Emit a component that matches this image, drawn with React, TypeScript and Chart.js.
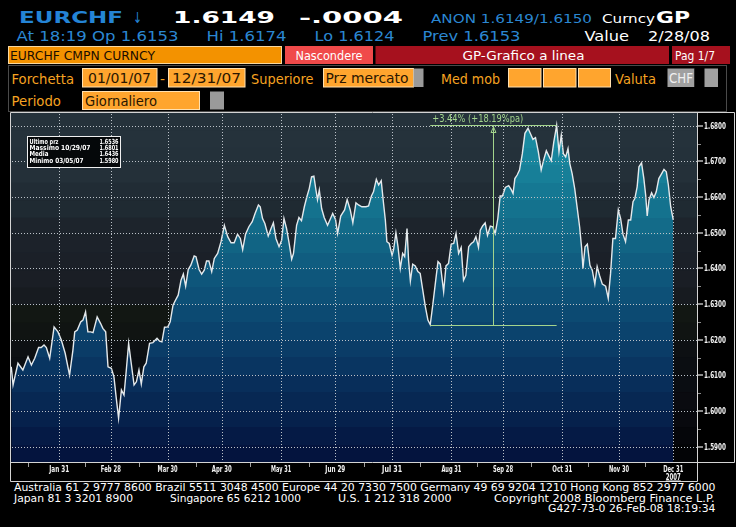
import React, { useEffect, useRef } from "react";
import { Chart, registerables } from "chart.js";

Chart.register(...registerables);

// ---- DATA (trading-day number of 2007, EURCHF close) ----
const days = [
  4.4, 5.1, 7.0, 8.9, 10.9, 12.2, 13.5, 15.0, 16.0, 17.1, 18.0, 19.3, 21.0, 22.5, 23.8, 25.3, 27.0, 28.3, 29.0, 30.0,
  31.3, 32.2, 33.2, 34.1, 35.2, 36.1, 37.7, 39.0, 39.9, 41.0, 41.9, 43.2, 44.2, 45.1, 46.0, 47.1, 48.1, 49.0, 49.9, 50.9,
  52.0, 52.9, 53.9, 54.8, 55.8, 56.7, 58.0, 59.3, 60.9, 61.9, 62.8, 63.8, 65.1, 66.0, 67.1, 68.0, 69.1, 70.2, 71.1, 72.0,
  73.0, 74.0, 75.3, 76.0, 77.2, 78.2, 79.2, 80.1, 81.0, 82.1, 83.1, 84.4, 85.7, 87.0, 88.3, 89.6, 90.8, 92.1, 93.2, 94.1,
  95.2, 96.5, 97.8, 98.9, 100.2, 100.9, 101.8, 102.7, 104.0, 105.1, 106.0, 107.0, 108.2, 109.2, 110.1, 111.1, 112.0, 113.1, 113.8, 115.0,
  115.9, 116.9, 118.0, 118.9, 119.9, 120.8, 121.7, 122.5, 123.1, 123.8, 124.7, 125.7, 127.0, 127.9, 129.0, 130.1, 130.9, 132.1, 132.8, 133.6,
  134.6, 135.8, 136.8, 138.0, 139.0, 140.3, 141.9, 142.9, 144.0, 144.8, 145.9, 146.8, 147.8, 148.7, 149.4, 150.0, 150.9, 152.0, 152.6, 153.5,
  154.3, 155.2, 156.1, 156.9, 157.8, 158.4, 159.1, 160.0, 161.0, 162.0, 162.9, 163.8, 164.9, 165.9, 166.8, 167.7, 168.7, 169.8, 170.7, 172.0,
  172.9, 173.9, 174.9, 175.9, 176.8, 177.8, 178.8, 179.7, 180.6, 181.7, 182.7, 183.6, 184.5, 185.5, 186.2, 187.1, 188.1, 189.0, 190.1, 191.0,
  192.0, 193.0, 193.9, 194.8, 195.9, 197.2, 198.2, 198.9, 199.6, 200.5, 201.4, 202.5, 203.5, 204.7, 205.7, 206.6, 207.6, 208.7, 209.8, 210.9,
  211.8, 212.8, 213.7, 214.7, 215.8, 216.7, 217.6, 218.4, 219.3, 220.2, 220.9, 221.8, 222.8, 223.8, 224.7, 225.5, 226.0, 226.8, 227.7, 228.7,
  229.6, 230.6, 231.5, 232.4, 233.5, 234.8, 235.8, 236.7, 237.6, 238.6, 239.7, 240.6, 241.5, 242.5, 243.6, 244.5, 245.4, 246.1, 247.0, 247.7,
  248.7, 249.6, 250.3, 250.9, 251.6, 252.6, 253.5, 254.4, 255.4, 256.5, 257.4, 258.3, 259.1, 260.0, 261.0,
];
const rates = [
  1.6124, 1.6073, 1.6134, 1.6115, 1.6152, 1.6129, 1.6148, 1.6178, 1.6178, 1.6185, 1.6178, 1.6148, 1.6236, 1.6222, 1.6199, 1.6162, 1.6101, 1.6171, 1.6222, 1.6227,
  1.6250, 1.6255, 1.6278, 1.6222, 1.6222, 1.6220, 1.6264, 1.6246, 1.6232, 1.6222, 1.6124, 1.6120, 1.6096, 1.6036, 1.5980, 1.6059, 1.6045, 1.6115, 1.6190, 1.6134,
  1.6073, 1.6082, 1.6115, 1.6076, 1.6124, 1.6134, 1.6190, 1.6192, 1.6204, 1.6196, 1.6194, 1.6235, 1.6236, 1.6250, 1.6297, 1.6310, 1.6325, 1.6367, 1.6384, 1.6350,
  1.6397, 1.6409, 1.6435, 1.6433, 1.6397, 1.6384, 1.6395, 1.6421, 1.6421, 1.6391, 1.6428, 1.6442, 1.6475, 1.6521, 1.6489, 1.6472, 1.6472, 1.6496, 1.6484, 1.6453,
  1.6496, 1.6517, 1.6531, 1.6554, 1.6578, 1.6573, 1.6540, 1.6526, 1.6491, 1.6512, 1.6528, 1.6484, 1.6461, 1.6479, 1.6540, 1.6512, 1.6475, 1.6426, 1.6442, 1.6521,
  1.6543, 1.6534, 1.6573, 1.6599, 1.6624, 1.6657, 1.6659, 1.6620, 1.6593, 1.6620, 1.6568, 1.6543, 1.6521, 1.6536, 1.6554, 1.6537, 1.6498, 1.6547, 1.6555, 1.6564,
  1.6593, 1.6564, 1.6528, 1.6584, 1.6578, 1.6573, 1.6573, 1.6575, 1.6603, 1.6615, 1.6650, 1.6634, 1.6646, 1.6582, 1.6536, 1.6475, 1.6470, 1.6437, 1.6453, 1.6500,
  1.6461, 1.6400, 1.6442, 1.6433, 1.6512, 1.6423, 1.6365, 1.6412, 1.6407, 1.6391, 1.6386, 1.6344, 1.6293, 1.6255, 1.6242, 1.6293, 1.6353, 1.6419, 1.6412, 1.6335,
  1.6407, 1.6414, 1.6468, 1.6470, 1.6498, 1.6442, 1.6459, 1.6367, 1.6381, 1.6461, 1.6470, 1.6475, 1.6489, 1.6459, 1.6507, 1.6519, 1.6528, 1.6493, 1.6519, 1.6517,
  1.6498, 1.6540, 1.6603, 1.6603, 1.6627, 1.6632, 1.6621, 1.6610, 1.6652, 1.6662, 1.6676, 1.6722, 1.6779, 1.6793, 1.6777, 1.6762, 1.6767, 1.6727, 1.6676, 1.6708,
  1.6730, 1.6715, 1.6702, 1.6755, 1.6801, 1.6727, 1.6774, 1.6722, 1.6713, 1.6736, 1.6694, 1.6666, 1.6624, 1.6568, 1.6517, 1.6456, 1.6400, 1.6461, 1.6468, 1.6409,
  1.6395, 1.6356, 1.6405, 1.6381, 1.6356, 1.6350, 1.6316, 1.6386, 1.6484, 1.6484, 1.6564, 1.6540, 1.6496, 1.6475, 1.6536, 1.6536, 1.6587, 1.6596, 1.6629, 1.6685,
  1.6696, 1.6652, 1.6606, 1.6547, 1.6592, 1.6612, 1.6599, 1.6615, 1.6652, 1.6666, 1.6678, 1.6671, 1.6634, 1.6573, 1.6536,
];
const monthTickDays = [23, 43, 65, 86, 109, 130, 152, 175, 195, 218, 240, 261];
const monthTickLabels = ["Jan 31", "Feb 28", "Mar 30", "Apr 30", "May 31", "Jun 29", "Jul 31", "Aug 31", "Sep 28", "Oct 31", "Nov 30", "Dec 31"];
const yearLabel = "2007";
const midMonthDays = [11, 33, 54, 76, 97, 120, 141, 163, 185, 206, 228, 250];
const yTicks = [1.59, 1.6, 1.61, 1.62, 1.63, 1.64, 1.65, 1.66, 1.67, 1.68];
const xRange = [4.3, 270.2];
const yRange = [1.5857, 1.6836];
const statsLabels = ["Ultimo prz", "Massimo 10/29/07", "Media", "Minimo 03/05/07"];
const statsValues = ["1.6536", "1.6801", "1.6436", "1.5980"];
const moveLowDay = 166.8;
const moveLow = 1.6242;
const moveHighDay = 215.8;
const moveHigh = 1.6801;
const moveLabel = "+3.44% (+18.19%pa)";

// ---- STYLE ----
const bgBandColors = [
  "#25323b", "#25323b", "#24313a", "#243039", "#212c35", "#1f2a32", "#1d242c", "#1c222a", "#1b2028", "#1a1e25",
  "#171b20", "#121713", "#101412", "#0d1013", "#0b0e12", "#0a0d12", "#0a0b10", "#08090e", "#05060a", "#030406",
];
const fillBandColors = [
  "#1a8ea3", "#1a8aa0", "#18859d", "#177f98", "#157893", "#14728e", "#136b89", "#116484", "#105d80", "#0e567b",
  "#0d5077", "#0c4a72", "#0b436d", "#0a3c67", "#093561", "#082e5a", "#072853", "#06214c", "#051a45", "#04143e",
];
const AX_FONT = "'DejaVu Sans', 'Liberation Sans', sans-serif";
const GREEN = "#a3d48c";
const GRID = "#bcc2c8";

function bandGradient(chart: any, colors: string[]) {
  const a = chart.chartArea;
  if (!a) return colors[0];
  const g = chart.ctx.createLinearGradient(0, a.top, 0, a.bottom);
  const n = colors.length;
  colors.forEach((c, k) => {
    g.addColorStop(k / n, c);
    g.addColorStop((k + 1) / n, c);
  });
  return g;
}

function seg(ctx: CanvasRenderingContext2D, x1: number, y1: number, x2: number, y2: number) {
  ctx.beginPath();
  ctx.moveTo(x1, y1);
  ctx.lineTo(x2, y2);
  ctx.stroke();
}

const bbgPlugin = {
  id: "bbg",
  beforeDatasetsDraw(chart: any) {
    const { ctx, chartArea: a } = chart;
    ctx.save();
    const n = bgBandColors.length;
    const h = (a.bottom - a.top) / n;
    bgBandColors.forEach((c, k) => {
      ctx.fillStyle = c;
      ctx.fillRect(a.left, a.top + k * h, a.right - a.left, h + 0.6);
    });
    ctx.restore();
  },
  afterDraw(chart: any) {
    const { ctx, chartArea: a, scales, width: W, height: H } = chart;
    const x = scales.x, y = scales.y;
    ctx.save();

    // dotted grid
    ctx.lineWidth = 1;
    ctx.strokeStyle = GRID;
    ctx.setLineDash([1, 2]);
    monthTickDays.forEach((d) => {
      const px = Math.round(x.getPixelForValue(d)) + 0.5;
      seg(ctx, px, a.top + 1, px, a.bottom);
    });
    yTicks.forEach((v) => {
      const py = Math.round(y.getPixelForValue(v)) + 0.5;
      seg(ctx, a.left + 1, py, a.right, py);
    });
    ctx.setLineDash([]);

    // move annotation
    const xl = x.getPixelForValue(moveLowDay);
    const xh = x.getPixelForValue(moveHighDay);
    const yl = Math.round(y.getPixelForValue(moveLow)) + 0.5;
    const yh = Math.round(y.getPixelForValue(moveHigh)) + 0.5;
    const xm = Math.round((xl + xh) / 2) + 0.5;
    ctx.strokeStyle = GREEN;
    ctx.lineWidth = 1;
    seg(ctx, xl, yl, xh, yl);
    seg(ctx, xl, yh, xh, yh);
    seg(ctx, xm, yh, xm, yl);
    ctx.beginPath();
    ctx.moveTo(xm, yh + 1.5);
    ctx.lineTo(xm - 2.5, yh + 7);
    ctx.lineTo(xm + 2.5, yh + 7);
    ctx.closePath();
    ctx.stroke();
    ctx.fillStyle = GREEN;
    ctx.font = `10px ${AX_FONT}`;
    ctx.textAlign = "left";
    ctx.textBaseline = "alphabetic";
    ctx.fillText(moveLabel, xl + 2, yh - 4, 91);

    // info box
    const bx = a.left + 16.5, by = a.top + 23.5;
    ctx.fillStyle = "#05080a";
    ctx.fillRect(bx, by, 93, 31);
    ctx.strokeStyle = "#f0f0f0";
    ctx.strokeRect(bx, by, 93, 31);
    ctx.fillStyle = "#ffffff";
    ctx.font = `bold 7px ${AX_FONT}`;
    const labelW = [29, 61, 19, 54];
    statsLabels.forEach((s, i) => {
      const base = a.top + 30.5 + i * 6.4;
      ctx.textAlign = "left";
      ctx.fillText(s, bx + 2, base, labelW[i]);
      ctx.textAlign = "right";
      ctx.fillText(statsValues[i], bx + 91, base, 19);
    });

    // frame
    ctx.strokeStyle = "#d4d4d4";
    ctx.lineWidth = 1;
    const L = a.left - 0.5, TT = a.top - 0.5, R = a.right + 0.5, B = a.bottom + 0.5;
    const SB = H - 2.5;
    seg(ctx, L, TT, W - 1.5, TT);
    seg(ctx, L, TT, L, SB);
    seg(ctx, L, B, W - 1.5, B);
    seg(ctx, R, TT, R, SB);
    seg(ctx, W - 1.5, TT, W - 1.5, B);
    seg(ctx, L, SB, R, SB);

    // y axis marks + labels
    ctx.fillStyle = "#8c8c8c";
    for (let k = 0; k < yTicks.length; k++) {
      const py = Math.round(y.getPixelForValue(yTicks[k]));
      ctx.fillRect(a.right + 1, py - 1, 5, 2);
      if (k < yTicks.length - 1) {
        const pm = Math.round(y.getPixelForValue((yTicks[k] + yTicks[k + 1]) / 2));
        ctx.fillRect(a.right + 1, pm, 3, 1);
      }
    }
    ctx.fillStyle = "#f2f2f2";
    ctx.font = `bold 8px ${AX_FONT}`;
    ctx.textAlign = "left";
    for (const v of yTicks) {
      const py = y.getPixelForValue(v);
      ctx.fillText(v.toFixed(4), a.right + 7, py + 3, 22);
    }

    // x axis marks + labels
    ctx.fillStyle = "#a0a0a0";
    for (const d of midMonthDays) {
      const px = Math.round(x.getPixelForValue(d));
      ctx.fillRect(px, a.bottom + 1, 1, 4);
    }
    ctx.fillStyle = "#f2f2f2";
    ctx.textAlign = "center";
    monthTickDays.forEach((d, i) => {
      const px = x.getPixelForValue(d);
      ctx.fillText(monthTickLabels[i], px, a.bottom + 10, 20);
    });
    const pEnd = x.getPixelForValue(monthTickDays[monthTickDays.length - 1]);
    ctx.fillText(yearLabel, pEnd, a.bottom + 17.5, 15);
    ctx.fillRect(pEnd - 7.5, a.bottom + 18.5, 15, 1);
    ctx.restore();
  },
};

const FONT = "'DejaVu Sans', 'Liberation Sans', sans-serif";
const BLUE = "#2484d6";
const BLUE2 = "#2b87d2";
const AMBER = "#f6a321";
const BOX = "#ffa52e";

function Tx(props: {
  x: number; y: number; w?: number; s?: number; c?: string; b?: boolean; a?: "start" | "middle" | "end"; children: any;
}) {
  const { x, y, w, s = 13, c = "#ffffff", b = false, a = "start", children } = props;
  return (
    <text
      x={x}
      y={y}
      fontSize={s}
      fill={c}
      fontWeight={b ? "bold" : "normal"}
      fontFamily={FONT}
      textAnchor={a}
      textLength={w}
      lengthAdjust={w ? "spacingAndGlyphs" : undefined}
    >
      {children}
    </text>
  );
}

export default function App() {
  const ref = useRef<HTMLCanvasElement | null>(null);

  useEffect(() => {
    document.body.style.margin = "0";
    document.body.style.background = "#000";
    const canvas = ref.current;
    if (!canvas) return;
    const pts = days.map((d, i) => ({ x: d, y: rates[i] }));
    const chart = new Chart(canvas, {
      type: "line",
      data: {
        datasets: [
          {
            data: pts,
            borderColor: "#e4e9ec",
            borderWidth: 1.4,
            pointRadius: 0,
            tension: 0,
            fill: false,
            order: 0,
          },
          {
            data: pts,
            borderColor: "rgba(0,0,0,0)",
            borderWidth: 0,
            pointRadius: 0,
            tension: 0,
            fill: "start",
            backgroundColor: (c: any) => bandGradient(c.chart, fillBandColors),
            order: 1,
          },
        ],
      },
      options: {
        animation: false,
        responsive: false,
        maintainAspectRatio: false,
        events: [],
        layout: { padding: { left: 11, top: 1, right: 0, bottom: 0 } },
        plugins: { legend: { display: false }, tooltip: { enabled: false } },
        scales: {
          x: {
            type: "linear",
            min: xRange[0],
            max: xRange[1],
            grid: { display: false, drawTicks: false },
            border: { display: false },
            ticks: { display: false },
            afterFit: (s: any) => {
              s.height = 22;
            },
          },
          y: {
            position: "right",
            min: yRange[0],
            max: yRange[1],
            grid: { display: false, drawTicks: false },
            border: { display: false },
            ticks: { display: false },
            afterFit: (s: any) => {
              s.width = 39;
            },
          },
        },
      } as any,
      plugins: [bbgPlugin],
    });
    return () => chart.destroy();
  }, []);

  return (
    <div style={{ position: "relative", width: 736, height: 527, background: "#000", overflow: "hidden" }}>
      <svg width={736} height={527} style={{ position: "absolute", left: 0, top: 0 }}>
        {/* row 1 */}
        <Tx x={19} y={23} w={104} s={15.5} b c={BLUE}>EURCHF</Tx>
        <Tx x={133} y={23} w={9} s={15} c={BLUE}>↓</Tx>
        <Tx x={173} y={23} w={102} s={15.5} b>1.6149</Tx>
        <Tx x={299} y={23} w={104} s={15.5} b>-.0004</Tx>
        <Tx x={431} y={23} w={161} s={13} c={BLUE2}>ANON 1.6149/1.6150</Tx>
        <Tx x={602} y={23} w={53} s={13}>Curncy</Tx>
        <Tx x={656} y={23} w={34} s={15.5} b>GP</Tx>
        {/* row 2 */}
        <Tx x={16.5} y={40.5} w={162} s={13.5} c={BLUE2}>At 18:19 Op 1.6153</Tx>
        <Tx x={206.5} y={40.5} w={80} s={13.5} c={BLUE2}>Hi 1.6174</Tx>
        <Tx x={314.5} y={40.5} w={80} s={13.5} c={BLUE2}>Lo 1.6124</Tx>
        <Tx x={422.5} y={40.5} w={98} s={13.5} c={BLUE2}>Prev 1.6153</Tx>
        <Tx x={584.5} y={40.5} w={44.5} s={13.5}>Value</Tx>
        <Tx x={648} y={40.5} w={62} s={13.5}>2/28/08</Tx>
        {/* row 3 */}
        <rect x={8.5} y={46.5} width={273} height={17} fill="#f39200" stroke="#f8d8a0" strokeWidth={1} />
        <Tx x={10} y={60} w={145} s={12.5} c="#1a0d00">EURCHF CMPN CURNCY</Tx>
        <rect x={285} y={46} width={88} height={18} fill="#f04a4a" />
        <Tx x={329} y={60} w={67} s={12.5} a="middle">Nascondere</Tx>
        <rect x={375.5} y={46} width={293.5} height={18} fill="#a6111e" />
        <Tx x={523.5} y={60} w={122} s={12.5} a="middle">GP-Grafico a linea</Tx>
        <rect x={672} y={46} width={58} height={18} fill="#a6111e" />
        <Tx x={675} y={60} w={40} s={12.5}>Pag 1/7</Tx>
        {/* panel */}
        <rect x={8.5} y={65.5} width={718} height={46} fill="none" stroke="#4a4a4a" strokeWidth={1} />
        {/* row 4 */}
        <Tx x={11.5} y={83.5} w={62.5} s={14} c={AMBER}>Forchetta</Tx>
        <rect x={82.5} y={68.5} width={74.5} height={18.5} fill={BOX} stroke="#ffe0b0" strokeWidth={1} />
        <Tx x={88} y={83} w={63} s={13.5} c="#2a1600">01/01/07</Tx>
        <Tx x={160} y={83.5} w={5} s={14} c={AMBER}>-</Tx>
        <rect x={168.5} y={68.5} width={76.5} height={18.5} fill={BOX} stroke="#ffe0b0" strokeWidth={1} />
        <Tx x={172} y={83} w={69} s={13.5} c="#2a1600">12/31/07</Tx>
        <Tx x={251} y={83.5} w={62.5} s={14} c={AMBER}>Superiore</Tx>
        <rect x={323.5} y={68.5} width={90} height={18.5} fill={BOX} stroke="#ffe0b0" strokeWidth={1} />
        <rect x={413.5} y={68.5} width={10} height={18.5} fill="#9a9a9a" />
        <Tx x={325.5} y={83} w={83} s={13.5} c="#2a1600">Prz mercato</Tx>
        <Tx x={441} y={83.5} w={59} s={14} c={AMBER}>Med mob</Tx>
        <rect x={508.5} y={68.5} width={32.5} height={18.5} fill={BOX} stroke="#ffe0b0" strokeWidth={1} />
        <rect x={543.5} y={68.5} width={32.5} height={18.5} fill={BOX} stroke="#ffe0b0" strokeWidth={1} />
        <rect x={578.5} y={68.5} width={32} height={18.5} fill={BOX} stroke="#ffe0b0" strokeWidth={1} />
        <Tx x={615} y={83.5} w={41} s={14} c={AMBER}>Valuta</Tx>
        <rect x={667.5} y={68.5} width={27} height={18.5} fill="#a0a0a0" />
        <rect x={694.5} y={68.5} width={10} height={18.5} fill="#000" />
        <rect x={704.5} y={68.5} width={13.5} height={18.5} fill="#a0a0a0" />
        <Tx x={669} y={83} w={24} s={13.5} c="#f0f0f0">CHF</Tx>
        {/* row 5 */}
        <Tx x={11.5} y={105.5} w={49.5} s={14} c={AMBER}>Periodo</Tx>
        <rect x={82.5} y={91.5} width={117} height={18} fill={BOX} stroke="#ffe0b0" strokeWidth={1} />
        <rect x={210} y={91.5} width={14} height={18} fill="#9a9a9a" />
        <Tx x={85} y={105.5} w={72} s={13.5} c="#2a1600">Giornaliero</Tx>
        {/* footer */}
        <Tx x={14} y={491} w={701.5} s={10.5}>
          Australia 61 2 9777 8600 Brazil 5511 3048 4500 Europe 44 20 7330 7500 Germany 49 69 9204 1210 Hong Kong 852 2977 6000
        </Tx>
        <Tx x={14} y={501.5} w={119} s={10.5}>Japan 81 3 3201 8900</Tx>
        <Tx x={170} y={501.5} w={131} s={10.5}>Singapore 65 6212 1000</Tx>
        <Tx x={338} y={501.5} w={113.5} s={10.5}>U.S. 1 212 318 2000</Tx>
        <Tx x={494} y={501.5} w={220.5} s={10.5}>Copyright 2008 Bloomberg Finance L.P.</Tx>
        <Tx x={548} y={512} w={167.5} s={10.5}>G427-73-0 26-Feb-08 18:19:34</Tx>
      </svg>
      <canvas
        ref={ref}
        width={736}
        height={372}
        style={{ position: "absolute", left: 0, top: 112, width: 736, height: 372 }}
      />
    </div>
  );
}
